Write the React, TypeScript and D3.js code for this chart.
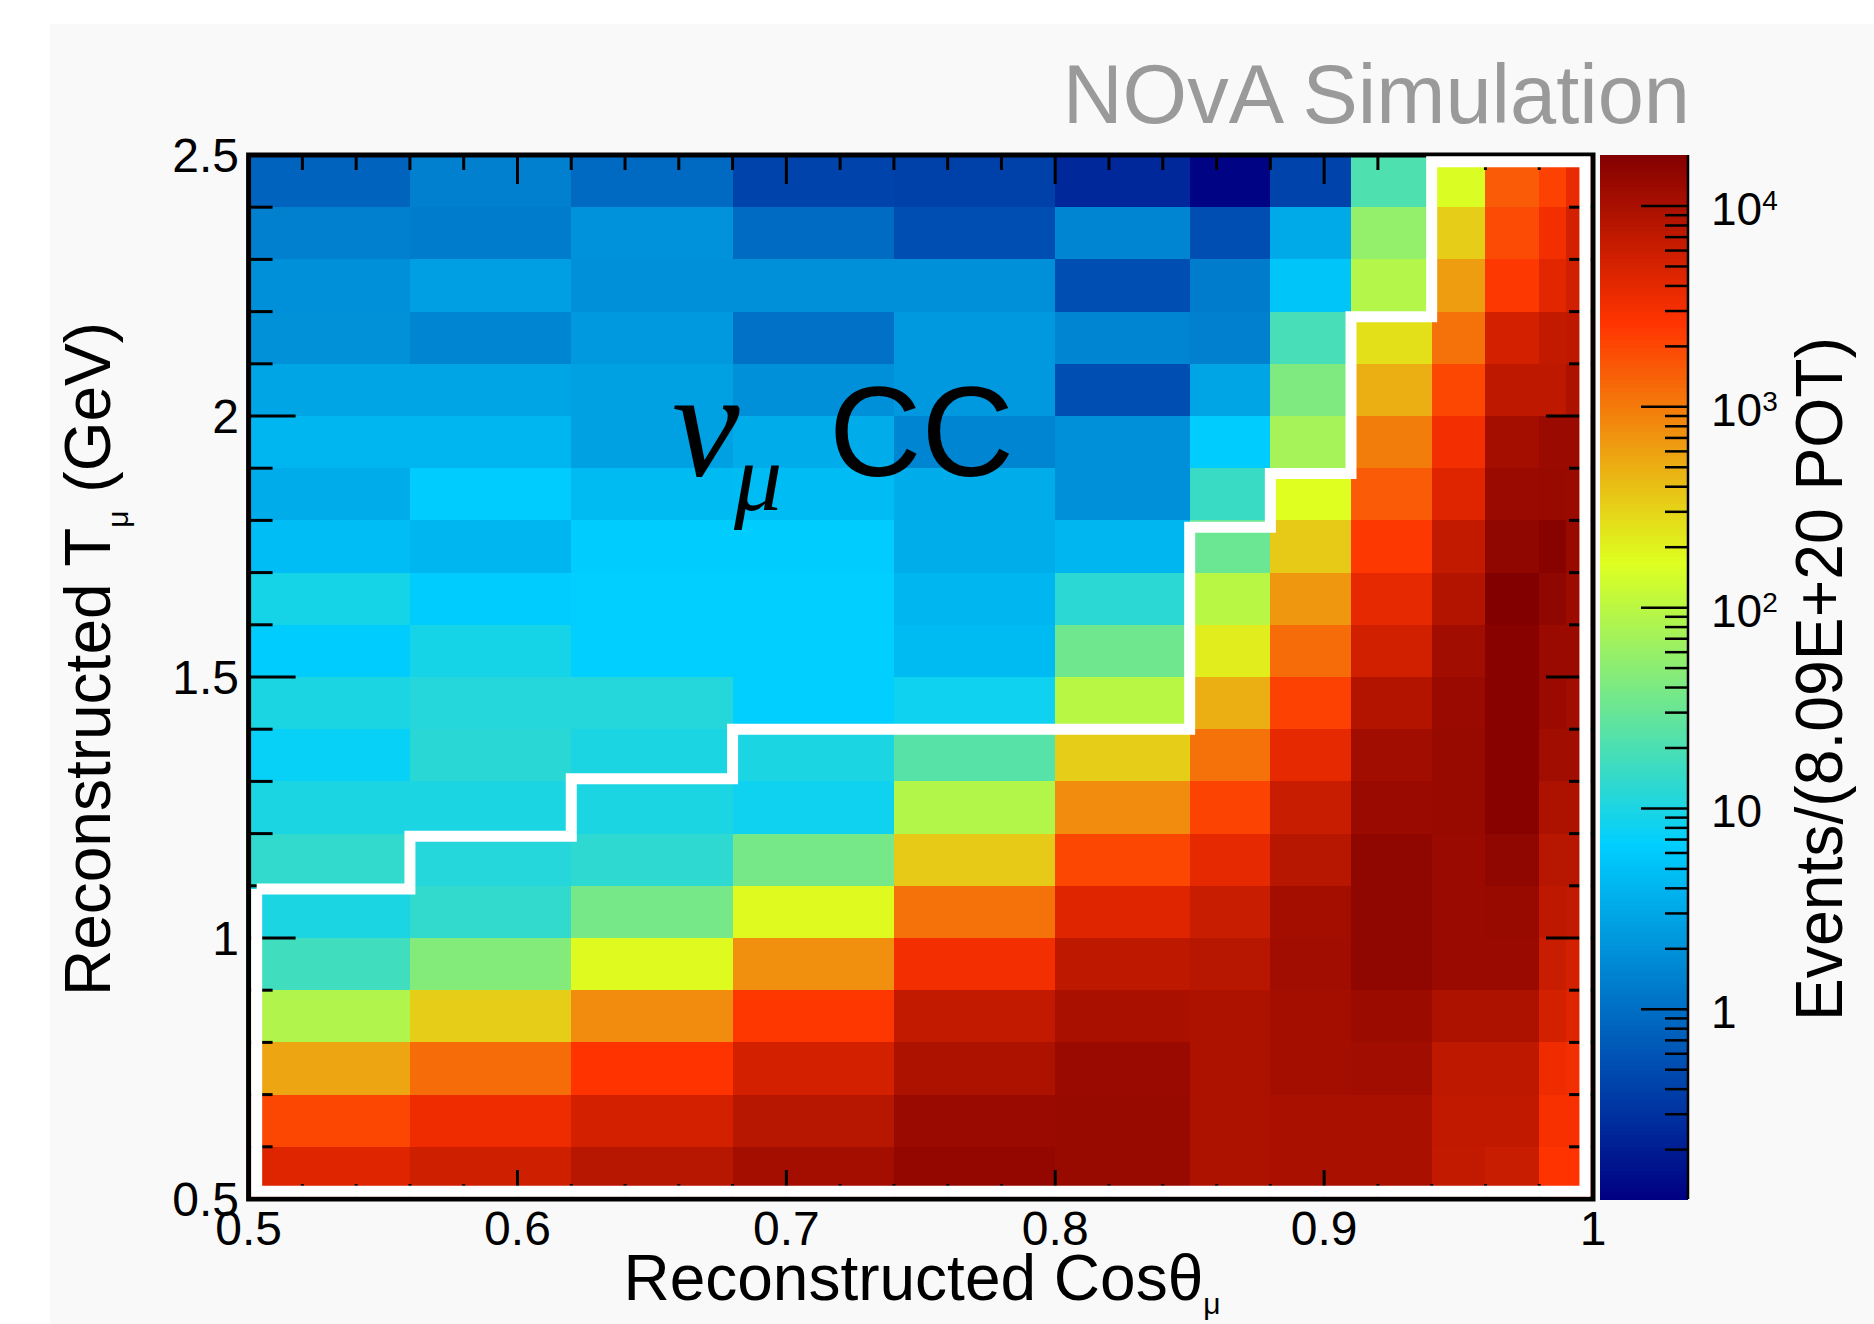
import React from 'react';
import * as d3 from 'd3';

const W = 1874;
const H = 1324;
const SANS = "'Liberation Sans', Arial, Helvetica, sans-serif";
const SERIF = "'Liberation Serif', 'Times New Roman', serif";

// bin edges of the histogram
const cosEdges = [0.5, 0.56, 0.62, 0.68, 0.74, 0.8, 0.85, 0.88, 0.91, 0.94, 0.96, 0.98, 0.99, 1.0];
const tEdges = [2.5, 2.4, 2.3, 2.2, 2.1, 2.0, 1.9, 1.8, 1.7, 1.6, 1.5, 1.4, 1.3, 1.2, 1.1, 1.0, 0.9, 0.8, 0.7, 0.6, 0.5];

// events per bin, one row per T bin (top row first), one entry per cos bin
const counts = [
  [0.8, 1.4, 0.9, 0.42, 0.4, 0.25, 0.12, 0.42, 21, 160, 1540, 2200, 3650], // 2.4-2.5
  [1.4, 1.3, 2.0, 0.93, 0.53, 1.55, 0.53, 3.2, 57, 330, 1900, 3160, 5150], // 2.3-2.4
  [1.9, 2.55, 1.9, 1.9, 1.9, 0.53, 1.3, 5.5, 92, 630, 2470, 4100, 5420], // 2.2-2.3
  [1.95, 1.55, 2.26, 1.05, 2.26, 1.55, 1.4, 18.6, 255, 1150, 5150, 6700, 7150], // 2.1-2.2
  [2.9, 2.9, 2.7, 1.9, 2.26, 0.53, 2.9, 42, 494, 2010, 7150, 7150, 9300], // 2.0-2.1
  [4.1, 4.1, 2.7, 3.35, 1.55, 1.9, 6.3, 73, 975, 3160, 10800, 12200, 12200], // 1.9-2.0
  [3.35, 6.3, 4.4, 4.6, 3.4, 1.9, 15.4, 168, 1540, 4400, 12200, 12800, 12200], // 1.8-1.9
  [4.8, 4.1, 6.3, 6.3, 3.44, 4.1, 31.5, 345, 2470, 6700, 14500, 16300, 12800], // 1.7-1.8
  [9.2, 6.3, 6.6, 6.6, 4.1, 12.6, 98, 680, 3900, 8500, 17900, 14500, 12000], // 1.6-1.7
  [6.3, 9.2, 6.6, 6.6, 4.4, 33.5, 214, 1230, 5420, 11100, 16300, 12200, 12200], // 1.5-1.6
  [10, 11.4, 11.4, 6.6, 8.2, 98, 494, 2200, 8500, 12200, 16300, 12200, 11100], // 1.4-1.5
  [7.5, 12.1, 10, 10, 23.6, 325, 1150, 3900, 11100, 12800, 16300, 11100, 11100], // 1.3-1.4
  [10, 10, 10, 8.2, 90, 790, 2120, 6100, 12200, 12800, 16300, 9300, 9300], // 1.2-1.3
  [13.6, 11.4, 12.9, 37, 345, 2010, 3900, 8000, 14500, 12200, 14500, 8000, 8000], // 1.1-1.2
  [10, 13.6, 37, 180, 1150, 4400, 6100, 10800, 14500, 12200, 12800, 7150, 6700], // 1.0-1.1
  [16.8, 45, 180, 750, 3160, 7150, 8000, 11100, 14500, 12200, 12200, 6100, 5150], // 0.9-1.0
  [88, 325, 790, 2500, 6700, 9850, 9300, 10800, 12000, 9300, 9300, 5150, 4400], // 0.8-0.9
  [570, 1230, 2640, 5220, 9300, 12200, 9300, 10800, 11100, 7150, 7150, 3400, 3160], // 0.7-0.8
  [2010, 3400, 5220, 8000, 12200, 12800, 9300, 9850, 9850, 6900, 6900, 2950, 2950], // 0.6-0.7
  [4400, 5600, 8000, 10800, 13600, 12800, 9300, 9850, 9850, 6700, 6100, 2640, 2640], // 0.5-0.6
];

// z range of the colour axis
const zRange = [0.1135, 17950];

// selection contour (white line)
const contourCos = [0.503, 0.503, 0.997, 0.997, 0.94, 0.94, 0.91, 0.91, 0.88, 0.88, 0.85, 0.85, 0.68, 0.68, 0.62, 0.62, 0.56, 0.56, 0.503];
const contourT = [1.094, 0.515, 0.515, 2.487, 2.487, 2.19, 2.19, 1.89, 1.89, 1.787, 1.787, 1.4, 1.4, 1.305, 1.305, 1.195, 1.195, 1.094, 1.094];

// ROOT style palette
const palStops = [0, 0.34, 0.61, 0.84, 1];
const palColors = ['#000082', '#00cfff', '#deff1f', '#ff3300', '#820000'];

const App = () => {
  const x = d3.scaleLinear().domain([0.5, 1]).range([248.6, 1593]);
  const y = d3.scaleLinear().domain([0.5, 2.5]).range([1199, 155]);
  const zFrac = d3.scaleLog().domain(zRange).range([0, 1]).clamp(true);
  const zAxis = d3.scaleLog().domain(zRange).range([1199, 155]);
  const pal = d3.scaleLinear<string>().domain(palStops).range(palColors).interpolate(d3.interpolateRgb);

  const cbX = 1600;
  const cbW = 88;
  const nBands = 260;
  const bandH = (1199 - 155) / nBands;

  const xMajor = x.ticks(5);
  const xMinor = x.ticks(25);
  const yMajor = y.ticks(4);
  const yMinor = y.ticks(20);
  const zTicks = zAxis.ticks();
  const isMajorZ = (v: number) => Math.abs(Math.log10(v) - Math.round(Math.log10(v))) < 1e-6;

  const line = d3.line<number>()
    .x(i => x(contourCos[i]))
    .y(i => y(contourT[i]));

  return (
    <svg width={W} height={H} style={{ position: 'absolute', left: 0, top: 0 }} fontFamily={SANS}>
      <rect x={0} y={0} width={W} height={H} fill="#ffffff" />
      <rect x={50} y={24} width={W - 50} height={H - 24} fill="#f9f9f9" />

      <text x={1690} y={123} fontSize={83} textAnchor="end" fill="#9a9a9a">NOvA Simulation</text>

      {/* cells */}
      <g shapeRendering="crispEdges">
        {counts.map((row, i) => row.map((v, j) => (
          <rect key={`${i}-${j}`}
            x={x(cosEdges[j])}
            y={y(tEdges[i])}
            width={x(cosEdges[j + 1]) - x(cosEdges[j]) + 0.5}
            height={y(tEdges[i + 1]) - y(tEdges[i]) + 0.5}
            fill={pal(zFrac(v))} />
        )))}
      </g>

      {/* ticks */}
      <g stroke="#000" strokeWidth={3}>
        {xMinor.map(v => {
          const len = xMajor.some(m => Math.abs(m - v) < 1e-9) ? 29 : 15;
          return (
            <g key={`xt${v}`}>
              <line x1={x(v)} x2={x(v)} y1={1199} y2={1199 - len} />
              <line x1={x(v)} x2={x(v)} y1={155} y2={155 + len} />
            </g>
          );
        })}
        {yMinor.map(v => {
          const len = yMajor.some(m => Math.abs(m - v) < 1e-9) ? 47 : 24;
          return (
            <g key={`yt${v}`}>
              <line x1={248.6} x2={248.6 + len} y1={y(v)} y2={y(v)} />
              <line x1={1593} x2={1593 - len} y1={y(v)} y2={y(v)} />
            </g>
          );
        })}
      </g>

      <rect x={248.6} y={155} width={1593 - 248.6} height={1044} fill="none" stroke="#000" strokeWidth={5} />

      <path d={line(d3.range(contourCos.length)) || ''} fill="none" stroke="#ffffff" strokeWidth={11} strokeLinejoin="miter" />

      {/* axis labels */}
      {xMajor.map(v => (
        <text key={`xl${v}`} x={x(v)} y={1245} fontSize={48} textAnchor="middle">{String(+v.toFixed(1))}</text>
      ))}
      {yMajor.map(v => (
        <text key={`yl${v}`} x={239} y={y(v) + 17} fontSize={48} textAnchor="end">{String(+v.toFixed(1))}</text>
      ))}

      <text x={922} y={1300} fontSize={64} textAnchor="middle">
        Reconstructed Cosθ<tspan fontSize={30} dy={14}>μ</tspan>
      </text>
      <text transform="translate(110,659) rotate(-90)" fontSize={64} textAnchor="middle">
        Reconstructed T<tspan fontSize={30} dy={18}>μ</tspan><tspan dy={-18}> (GeV)</tspan>
      </text>

      {/* nu_mu CC label */}
      <text x={672} y={476} fontFamily={SERIF} fontStyle="italic" fontSize={152}>ν</text>
      <text x={734} y={510} fontFamily={SERIF} fontStyle="italic" fontSize={96}>μ</text>
      <text x={829} y={476} fontSize={128}>CC</text>

      {/* colour bar */}
      <g shapeRendering="crispEdges">
        {d3.range(nBands).map(k => (
          <rect key={`cb${k}`} x={cbX} y={155 + k * bandH} width={cbW} height={bandH + 0.6}
            fill={pal(1 - (k + 0.5) / nBands)} />
        ))}
      </g>
      <g stroke="#000" strokeWidth={2.5}>
        <line x1={cbX + cbW} x2={cbX + cbW} y1={155} y2={1199} />
        {zTicks.map(v => (
          <line key={`zt${v}`} x1={cbX + cbW} x2={cbX + cbW - (isMajorZ(v) ? 47 : 23)} y1={zAxis(v)} y2={zAxis(v)} />
        ))}
      </g>
      {zTicks.filter(v => isMajorZ(v) && v >= 1).map(v => {
        const e = Math.round(Math.log10(v));
        return (
          <text key={`zl${v}`} x={1711} y={zAxis(v) + 19} fontSize={46}>
            {e === 0 ? '1' : '10'}
            {e >= 2 && <tspan dy={-15} fontSize={28}>{e}</tspan>}
          </text>
        );
      })}
      <text transform="translate(1842,679) rotate(-90)" fontSize={66} textAnchor="middle"
        textLength={684} lengthAdjust="spacingAndGlyphs">Events/(8.09E+20 POT)</text>
    </svg>
  );
};

export default App;
